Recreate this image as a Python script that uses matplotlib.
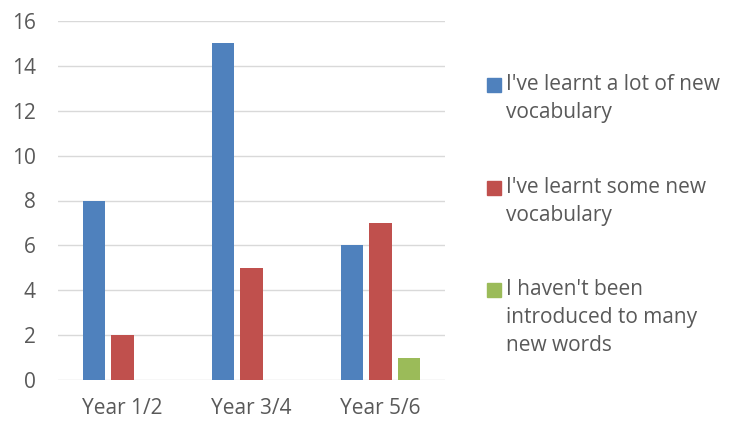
import matplotlib
matplotlib.use("Agg")
import matplotlib.pyplot as plt
from matplotlib.patches import Rectangle
import numpy as np

categories = ["Year 1/2", "Year 3/4", "Year 5/6"]
series_labels = ["I've learnt a lot of new\nvocabulary",
                 "I've learnt some new\nvocabulary",
                 "I haven't been\nintroduced to many\nnew words"]
lot_of_new = [8, 15, 6]
some_new = [2, 5, 7]
not_many = [0, 0, 1]
series_values = [lot_of_new, some_new, not_many]
colors = ["#4F81BD", "#C0504D", "#9BBB59"]
yticks = [0, 2, 4, 6, 8, 10, 12, 14, 16]

plt.rcParams['font.family'] = ['Open Sans', 'DejaVu Sans']
TXT = "#595959"
W, H = 745, 421
fig = plt.figure(figsize=(W / 100, H / 100), dpi=100)
ax = fig.add_axes([58 / W, 1 - 380.3 / H, (445 - 58) / W, (380.3 - 20.7) / H])

x = np.arange(len(categories))
bw = 0.175
off = 0.222
for i, (vals, c) in enumerate(zip(series_values, colors)):
    ax.bar(x + (i - 1) * off, vals, width=bw, color=c, zorder=3)

ax.set_xlim(-0.5, 2.5)
ax.set_ylim(0, 16)
ax.set_yticks(yticks)
ax.set_xticks(x)
ax.set_xticklabels(categories)
ax.grid(axis='y', color="#D9D9D9", linewidth=1.0, zorder=0)
ax.set_axisbelow(True)
for s in ax.spines.values():
    s.set_visible(False)
ax.tick_params(axis='both', length=0, labelsize=15, colors=TXT)
ax.tick_params(axis='y', pad=16)
ax.tick_params(axis='x', pad=13)

# legend drawn manually (square aligned with first line)
tops = [78, 181, 283]
for lab, c, t in zip(series_labels, colors, tops):
    fig.patches.append(Rectangle((487 / W, 1 - (t + 14) / H), 14 / W, 14 / H,
                                 transform=fig.transFigure, color=c))
    fig.text(506 / W, 1 - (t - 4) / H, lab, ha='left', va='top',
             fontsize=15, color=TXT, linespacing=1.45)

fig.savefig("out.png", dpi=100)
